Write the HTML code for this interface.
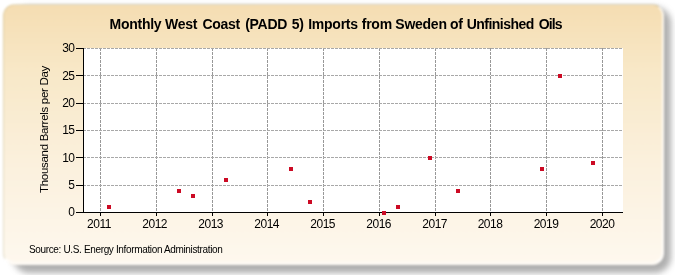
<!DOCTYPE html>
<html><head><meta charset="utf-8"><style>
html,body{margin:0;padding:0;background:#fff;width:675px;height:275px;overflow:hidden;}
#sh{position:absolute;left:13px;top:7px;width:658px;height:266px;border-radius:16px;background:rgba(60,60,60,0.41);filter:blur(3px);}
#box{position:absolute;left:3px;top:4px;width:661px;height:261px;border-radius:12px;filter:blur(1px);box-sizing:border-box;border-right:2px solid rgba(255,255,255,0.75);border-top:1px solid rgba(170,160,120,0.35);border-left:1px solid rgba(170,160,120,0.3);border-bottom:3px solid rgba(255,255,255,0.85);
background:linear-gradient(to bottom,#f5ddb2 0%,#f8e8c7 25%,#fbf0dc 60%,#fef8ee 100%);}
svg{position:absolute;left:0;top:0;will-change:transform;}
text{font-family:"Liberation Sans",sans-serif;fill:#000;}
.yl{font-size:12px;letter-spacing:-0.5px;}
.xl{font-size:12px;letter-spacing:-0.5px;}
.ti{font-size:14px;font-weight:bold;letter-spacing:-0.25px;}
.ya{font-size:11.5px;letter-spacing:-0.3px;}
.src{font-size:10px;letter-spacing:-0.35px;}
</style></head><body>
<div id="sh"></div><div id="box"></div>
<svg width="675" height="275" viewBox="0 0 675 275">
<rect x="83" y="48" width="540" height="164" fill="#ffffff"/>
<line x1="100.5" y1="48" x2="100.5" y2="212" stroke="#989898" stroke-width="1" stroke-dasharray="3 1"/>
<line x1="156.5" y1="48" x2="156.5" y2="212" stroke="#989898" stroke-width="1" stroke-dasharray="3 1"/>
<line x1="212.5" y1="48" x2="212.5" y2="212" stroke="#989898" stroke-width="1" stroke-dasharray="3 1"/>
<line x1="267.5" y1="48" x2="267.5" y2="212" stroke="#989898" stroke-width="1" stroke-dasharray="3 1"/>
<line x1="323.5" y1="48" x2="323.5" y2="212" stroke="#989898" stroke-width="1" stroke-dasharray="3 1"/>
<line x1="379.5" y1="48" x2="379.5" y2="212" stroke="#989898" stroke-width="1" stroke-dasharray="3 1"/>
<line x1="435.5" y1="48" x2="435.5" y2="212" stroke="#989898" stroke-width="1" stroke-dasharray="3 1"/>
<line x1="490.5" y1="48" x2="490.5" y2="212" stroke="#989898" stroke-width="1" stroke-dasharray="3 1"/>
<line x1="546.5" y1="48" x2="546.5" y2="212" stroke="#989898" stroke-width="1" stroke-dasharray="3 1"/>
<line x1="602.5" y1="48" x2="602.5" y2="212" stroke="#989898" stroke-width="1" stroke-dasharray="3 1"/>
<line x1="83" y1="48.5" x2="622" y2="48.5" stroke="#a8a8a8" stroke-width="1" stroke-dasharray="3 1"/>
<line x1="83" y1="75.5" x2="622" y2="75.5" stroke="#a8a8a8" stroke-width="1" stroke-dasharray="3 1"/>
<line x1="83" y1="103.5" x2="622" y2="103.5" stroke="#a8a8a8" stroke-width="1" stroke-dasharray="3 1"/>
<line x1="83" y1="130.5" x2="622" y2="130.5" stroke="#a8a8a8" stroke-width="1" stroke-dasharray="3 1"/>
<line x1="83" y1="157.5" x2="622" y2="157.5" stroke="#a8a8a8" stroke-width="1" stroke-dasharray="3 1"/>
<line x1="83" y1="185.5" x2="622" y2="185.5" stroke="#a8a8a8" stroke-width="1" stroke-dasharray="3 1"/>
<line x1="83.5" y1="48" x2="83.5" y2="213" stroke="#000" stroke-width="1"/>
<line x1="83" y1="212.5" x2="623" y2="212.5" stroke="#000" stroke-width="1"/>
<line x1="76" y1="48.5" x2="83" y2="48.5" stroke="#000" stroke-width="1"/>
<line x1="76" y1="75.5" x2="83" y2="75.5" stroke="#000" stroke-width="1"/>
<line x1="76" y1="103.5" x2="83" y2="103.5" stroke="#000" stroke-width="1"/>
<line x1="76" y1="130.5" x2="83" y2="130.5" stroke="#000" stroke-width="1"/>
<line x1="76" y1="157.5" x2="83" y2="157.5" stroke="#000" stroke-width="1"/>
<line x1="76" y1="185.5" x2="83" y2="185.5" stroke="#000" stroke-width="1"/>
<line x1="76" y1="212.5" x2="83" y2="212.5" stroke="#000" stroke-width="1"/>
<line x1="100.5" y1="213" x2="100.5" y2="216" stroke="#000" stroke-width="1"/>
<line x1="156.5" y1="213" x2="156.5" y2="216" stroke="#000" stroke-width="1"/>
<line x1="212.5" y1="213" x2="212.5" y2="216" stroke="#000" stroke-width="1"/>
<line x1="267.5" y1="213" x2="267.5" y2="216" stroke="#000" stroke-width="1"/>
<line x1="323.5" y1="213" x2="323.5" y2="216" stroke="#000" stroke-width="1"/>
<line x1="379.5" y1="213" x2="379.5" y2="216" stroke="#000" stroke-width="1"/>
<line x1="435.5" y1="213" x2="435.5" y2="216" stroke="#000" stroke-width="1"/>
<line x1="490.5" y1="213" x2="490.5" y2="216" stroke="#000" stroke-width="1"/>
<line x1="546.5" y1="213" x2="546.5" y2="216" stroke="#000" stroke-width="1"/>
<line x1="602.5" y1="213" x2="602.5" y2="216" stroke="#000" stroke-width="1"/>
<rect x="107" y="205" width="4" height="4" fill="#cc0a24"/>
<rect x="177" y="189" width="4" height="4" fill="#cc0a24"/>
<rect x="191" y="194" width="4" height="4" fill="#cc0a24"/>
<rect x="224" y="178" width="4" height="4" fill="#cc0a24"/>
<rect x="289" y="167" width="4" height="4" fill="#cc0a24"/>
<rect x="308" y="200" width="4" height="4" fill="#cc0a24"/>
<rect x="382" y="211" width="4" height="4" fill="#cc0a24"/>
<rect x="396" y="205" width="4" height="4" fill="#cc0a24"/>
<rect x="428" y="156" width="4" height="4" fill="#cc0a24"/>
<rect x="456" y="189" width="4" height="4" fill="#cc0a24"/>
<rect x="540" y="167" width="4" height="4" fill="#cc0a24"/>
<rect x="558" y="74" width="4" height="4" fill="#cc0a24"/>
<rect x="591" y="161" width="4" height="4" fill="#cc0a24"/>
<text x="74.5" y="51.5" text-anchor="end" class="yl">30</text>
<text x="74.5" y="79.5" text-anchor="end" class="yl">25</text>
<text x="74.5" y="106.5" text-anchor="end" class="yl">20</text>
<text x="74.5" y="133.5" text-anchor="end" class="yl">15</text>
<text x="74.5" y="161.5" text-anchor="end" class="yl">10</text>
<text x="74.5" y="188.5" text-anchor="end" class="yl">5</text>
<text x="74.5" y="215.5" text-anchor="end" class="yl">0</text>
<text x="99" y="228" text-anchor="middle" class="xl">2011</text>
<text x="154.7" y="228" text-anchor="middle" class="xl">2012</text>
<text x="210.7" y="228" text-anchor="middle" class="xl">2013</text>
<text x="266.7" y="228" text-anchor="middle" class="xl">2014</text>
<text x="322.7" y="228" text-anchor="middle" class="xl">2015</text>
<text x="378.7" y="228" text-anchor="middle" class="xl">2016</text>
<text x="434.7" y="228" text-anchor="middle" class="xl">2017</text>
<text x="490" y="228" text-anchor="middle" class="xl">2018</text>
<text x="546" y="228" text-anchor="middle" class="xl">2019</text>
<text x="602" y="228" text-anchor="middle" class="xl">2020</text>
<text y="29" class="ti"><tspan x="109.50" style="letter-spacing:-0.25px">Monthly</tspan><tspan x="165.03" style="letter-spacing:-0.25px">West</tspan><tspan x="202.38" style="letter-spacing:-0.25px">Coast</tspan><tspan x="245.16" style="letter-spacing:-0.25px">(PADD</tspan><tspan x="291.84" style="letter-spacing:-0.25px">5)</tspan><tspan x="308.22" style="letter-spacing:-0.25px">Imports</tspan><tspan x="361.76" style="letter-spacing:-0.25px">from</tspan><tspan x="395.31" style="letter-spacing:-0.25px">Sweden</tspan><tspan x="449.95" style="letter-spacing:-0.25px">of</tspan><tspan x="466.80" style="letter-spacing:-0.55px">Unfinished</tspan><tspan x="538.77" style="letter-spacing:-0.9px">Oils</tspan></text>
<text transform="translate(47.5,129.5) rotate(-90)" text-anchor="middle" class="ya">Thousand Barrels per Day</text>
<text x="29" y="253" class="src">Source: U.S. Energy Information Administration</text>
</svg>
</body></html>
